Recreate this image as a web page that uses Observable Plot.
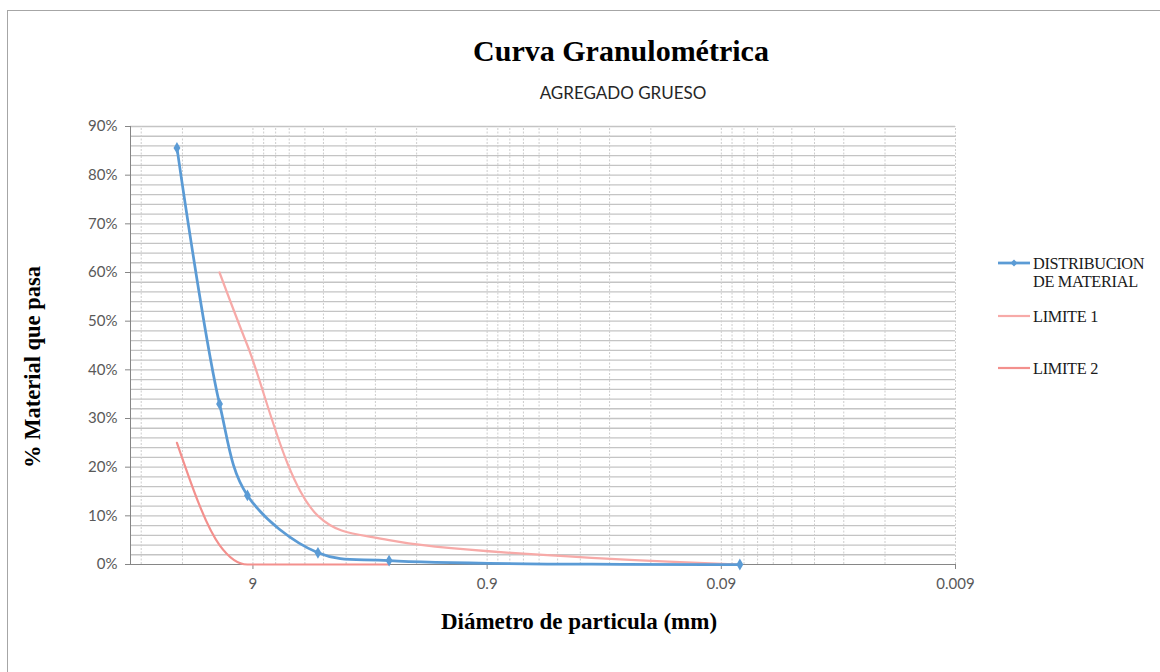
<!DOCTYPE html>
<html>
<head>
<meta charset="utf-8">
<script src="https://cdn.jsdelivr.net/npm/d3@7"></script>
<script src="https://cdn.jsdelivr.net/npm/@observablehq/plot@0.6"></script>
<style>
  html, body { margin: 0; padding: 0; background: #fff; }
  #wrap { position: relative; width: 1160px; height: 672px; overflow: hidden; background: #fff; }
  #wrap > svg { position: absolute; left: 0; top: 0; }
  #overlay { pointer-events: none; }
</style>
</head>
<body>
<div id="wrap"></div>
<script>
// ---- Data ----
const tamices = [19, 12.5, 9.5, 4.75, 2.36, 0.075];          // diameters (mm)
const pasa    = [0.856, 0.33, 0.142, 0.024, 0.008, 0];        // DISTRIBUCION DE MATERIAL
const lim1X   = [12.5, 9.5, 4.75, 2.36, 0.075];
const lim1    = [0.60, 0.45, 0.10, 0.05, 0];                  // LIMITE 1
const lim2X   = [19, 12.5, 9.5, 4.75, 2.36];
const lim2    = [0.25, 0.04, 0, 0, 0];                        // LIMITE 2

const xTicks      = [9, 0.9, 0.09, 0.009];
const xTickLabels = ["9", "0.9", "0.09", "0.009"];
const xGrid = [27, 18, 9, 8.1, 7.2, 6.3, 5.4, 4.5, 3.6, 2.7, 1.8, 0.9,
               0.81, 0.72, 0.63, 0.54, 0.45, 0.36, 0.27, 0.18, 0.09,
               0.081, 0.072, 0.063, 0.054, 0.045, 0.036, 0.027, 0.018, 0.009];
const yTicks = [0, 0.1, 0.2, 0.3, 0.4, 0.5, 0.6, 0.7, 0.8, 0.9];
const yGrid  = [0.02, 0.04, 0.06, 0.08, 0.1, 0.12, 0.14, 0.16, 0.18, 0.2, 0.22, 0.24, 0.26, 0.28, 0.3,
                0.32, 0.34, 0.36, 0.38, 0.4, 0.42, 0.44, 0.46, 0.48, 0.5, 0.52, 0.54, 0.56, 0.58, 0.6,
                0.62, 0.64, 0.66, 0.68, 0.7, 0.72, 0.74, 0.76, 0.78, 0.8, 0.82, 0.84, 0.86, 0.88, 0.9];

const seriesNames = ["DISTRIBUCION DE MATERIAL", "LIMITE 1", "LIMITE 2"];
const colors = ["#5b9bd5", "#f7aaa8", "#f3908d"];

const distData = tamices.map((d, i) => ({x: d, y: pasa[i]}));
const lim1Data = lim1X.map((d, i) => ({x: d, y: lim1[i]}));
const lim2Data = lim2X.map((d, i) => ({x: d, y: lim2[i]}));
const xTickData = xTicks.map((d, i) => ({x: d, label: xTickLabels[i]}));

const sans = "Lato, 'Open Sans', sans-serif";

const chart = Plot.plot({
  width: 1160,
  height: 672,
  marginLeft: 130,
  marginRight: 205,
  marginTop: 126,
  marginBottom: 108,
  style: {fontFamily: sans, fontSize: "15px", color: "#595959", background: "transparent"},
  x: {type: "log", domain: [30, 0.009], axis: null},
  y: {domain: [0, 0.9], axis: null},
  marks: [
    Plot.ruleY(yGrid, {stroke: "#c4c4c4", strokeWidth: 1.3}),
    Plot.ruleX(xGrid, {y1: 0, y2: 0.9, stroke: "#cdcdcd", strokeDasharray: "2,1.5"}),
    Plot.ruleX([30], {y1: 0, y2: 0.9, stroke: "#868686"}),
    Plot.ruleY([0], {stroke: "#868686"}),
    // x ticks (5px below the axis) and labels
    Plot.ruleX(xTickData, {x: "x", y1: 0, y2: 0, insetBottom: -5, stroke: "#868686"}),
    Plot.text(xTickData, {x: "x", y: 0, text: "label", dy: 14, lineAnchor: "top", fill: "#595959", fontSize: 15}),
    Plot.axisY({ticks: yTicks, tickFormat: d => Math.round(d * 100) + "%", tickSize: 5, tickPadding: 8, stroke: "#868686", fill: "#595959", label: null}),
    Plot.line(lim2Data, {x: "x", y: "y", stroke: colors[2], strokeWidth: 2.2, curve: "monotone-x"}),
    Plot.line(lim1Data, {x: "x", y: "y", stroke: colors[1], strokeWidth: 2.2, curve: "catmull-rom"}),
    Plot.line(distData, {x: "x", y: "y", stroke: colors[0], strokeWidth: 2.75, curve: "catmull-rom"}),
    Plot.dot(distData, {x: "x", y: "y", symbol: "diamond", r: 3.6, fill: colors[0], stroke: "none"})
  ]
});

const wrap = document.getElementById("wrap");
wrap.appendChild(chart);

// ---- Overlay: titles, legend, border ----
const svg = d3.select(wrap).append("svg")
  .attr("id", "overlay").attr("width", 1160).attr("height", 672);

svg.append("rect").attr("x", 7.5).attr("y", 10.5).attr("width", 1170).attr("height", 680)
  .attr("fill", "none").attr("stroke", "#a6a6a6").attr("stroke-width", 1);

const serif = "'Liberation Serif', 'Times New Roman', serif";
svg.append("text").attr("x", 621).attr("y", 61).attr("text-anchor", "middle")
  .attr("font-family", serif).attr("font-weight", "bold").attr("font-size", 30).attr("fill", "#000")
  .text("Curva Granulométrica");
svg.append("text").attr("x", 623).attr("y", 99).attr("text-anchor", "middle")
  .attr("font-family", sans).attr("font-size", 17).attr("fill", "#262626")
  .text("AGREGADO GRUESO");
svg.append("text").attr("x", 579).attr("y", 629).attr("text-anchor", "middle")
  .attr("font-family", serif).attr("font-weight", "bold").attr("font-size", 23).attr("fill", "#000")
  .text("Diámetro de particula (mm)");
svg.append("text").attr("transform", "translate(40,367) rotate(-90)").attr("text-anchor", "middle")
  .attr("font-family", serif).attr("font-weight", "bold").attr("font-size", 22.5).attr("fill", "#000")
  .text("% Material que pasa");

// legend
const leg = [
  {lines: ["DISTRIBUCION", "DE MATERIAL"], y: 263, color: colors[0], w: 2.75, marker: true},
  {lines: ["LIMITE 1"], y: 316, color: colors[1], w: 2.2, marker: false},
  {lines: ["LIMITE 2"], y: 368, color: colors[2], w: 2.2, marker: false}
];
leg.forEach(e => {
  svg.append("line").attr("x1", 998).attr("x2", 1030).attr("y1", e.y).attr("y2", e.y)
    .attr("stroke", e.color).attr("stroke-width", e.w);
  if (e.marker) {
    svg.append("path").attr("d", `M1014,${e.y - 3.5}L1017.5,${e.y}L1014,${e.y + 3.5}L1010.5,${e.y}Z`).attr("fill", e.color);
  }
  e.lines.forEach((t, i) => {
    svg.append("text").attr("x", 1033).attr("y", e.y + 6 + i * 18)
      .attr("font-family", serif).attr("font-size", 16.3).attr("fill", "#1a1a1a")
      .attr("letter-spacing", -0.3)
      .text(t);
  });
});
</script>
</body>
</html>
